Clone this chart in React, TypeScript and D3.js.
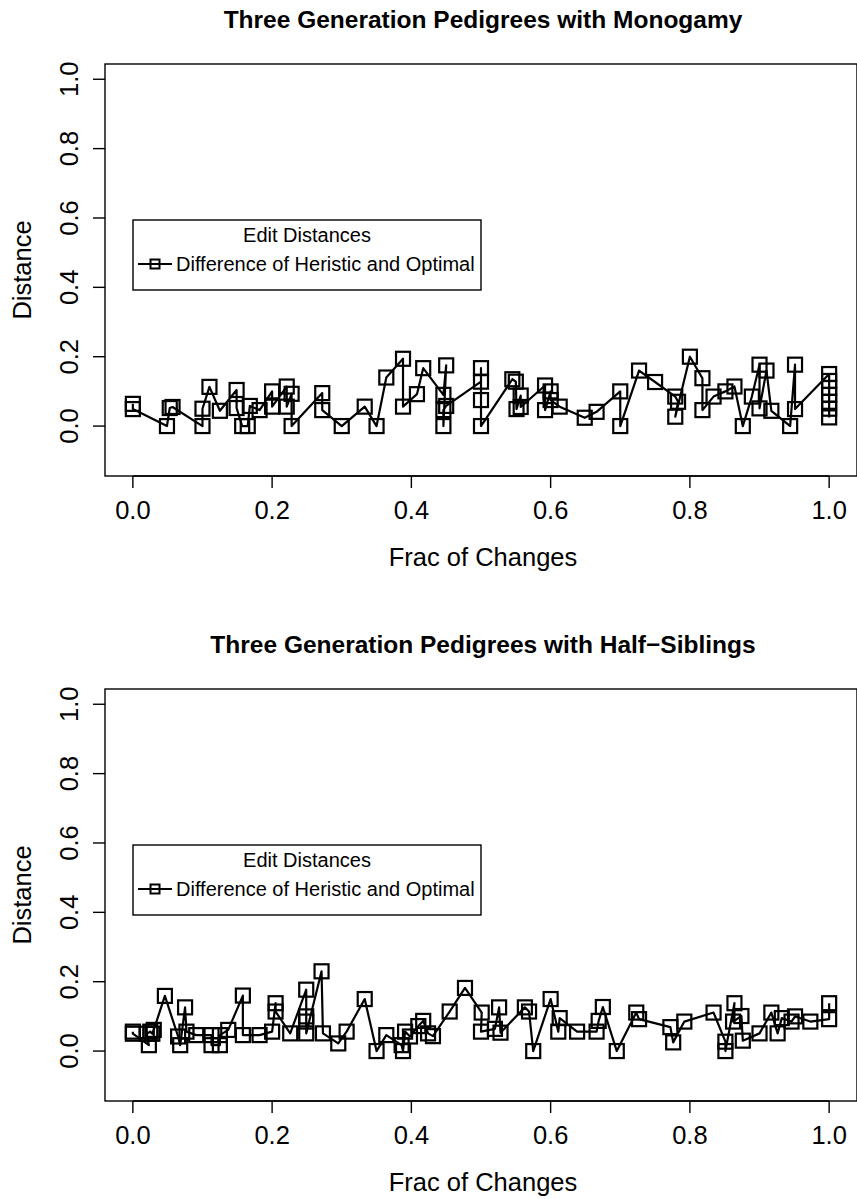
import React from 'react';
import * as d3 from 'd3';

// ── Data ─────────────────────────────────────────────────────────────────────
const monoX = [0, 0, 0.049, 0.053, 0.057, 0.1, 0.1, 0.11, 0.125, 0.149, 0.149, 0.157, 0.165, 0.168, 0.182, 0.2, 0.2, 0.221, 0.221, 0.228, 0.228, 0.272, 0.272, 0.3, 0.333, 0.35, 0.364, 0.388, 0.388, 0.408, 0.417, 0.446, 0.45, 0.446, 0.446, 0.45, 0.5, 0.5, 0.5, 0.5, 0.545, 0.55, 0.551, 0.557, 0.557, 0.592, 0.592, 0.6, 0.6, 0.613, 0.649, 0.666, 0.7, 0.7, 0.727, 0.75, 0.779, 0.783, 0.779, 0.8, 0.818, 0.818, 0.834, 0.851, 0.864, 0.876, 0.889, 0.9, 0.9, 0.91, 0.917, 0.944, 0.951, 0.951, 1, 1, 1, 1, 1, 1, 1];
const monoY = [0.064, 0.049, 0, 0.052, 0.055, 0, 0.05, 0.113, 0.044, 0.104, 0.052, 0, 0, 0.058, 0.046, 0.1, 0.056, 0.114, 0.056, 0.093, 0, 0.095, 0.046, 0, 0.056, 0, 0.14, 0.194, 0.056, 0.092, 0.167, 0.09, 0.175, 0, 0.046, 0.058, 0.128, 0.167, 0.075, 0, 0.135, 0.128, 0.049, 0.088, 0.055, 0.117, 0.046, 0.1, 0.075, 0.056, 0.024, 0.041, 0.1, 0, 0.16, 0.127, 0.085, 0.07, 0.027, 0.2, 0.138, 0.046, 0.085, 0.1, 0.114, 0, 0.085, 0.177, 0.051, 0.16, 0.044, 0, 0.177, 0.049, 0.15, 0.13, 0.11, 0.09, 0.07, 0.05, 0.025];

const halfX = [0, 0, 0.023, 0.02, 0.025, 0.028, 0.03, 0.046, 0.065, 0.068, 0.075, 0.077, 0.091, 0.113, 0.113, 0.125, 0.125, 0.137, 0.158, 0.158, 0.182, 0.2, 0.205, 0.205, 0.226, 0.249, 0.249, 0.249, 0.249, 0.271, 0.273, 0.295, 0.307, 0.333, 0.35, 0.364, 0.386, 0.388, 0.391, 0.398, 0.41, 0.417, 0.424, 0.431, 0.455, 0.477, 0.501, 0.5, 0.52, 0.526, 0.528, 0.563, 0.569, 0.575, 0.6, 0.611, 0.613, 0.638, 0.666, 0.669, 0.675, 0.695, 0.723, 0.727, 0.772, 0.776, 0.792, 0.834, 0.851, 0.851, 0.864, 0.862, 0.874, 0.876, 0.9, 0.917, 0.926, 0.932, 0.946, 0.951, 0.973, 1, 1];
const halfY = [0.056, 0.05, 0.017, 0.05, 0.056, 0.05, 0.061, 0.159, 0.042, 0.017, 0.126, 0.056, 0.046, 0.046, 0.017, 0.017, 0.046, 0.061, 0.16, 0.046, 0.046, 0.056, 0.138, 0.114, 0.051, 0.177, 0.1, 0.085, 0.051, 0.23, 0.051, 0.022, 0.056, 0.15, 0, 0.046, 0.017, 0, 0.056, 0.042, 0.072, 0.087, 0.051, 0.043, 0.114, 0.182, 0.111, 0.056, 0.064, 0.126, 0.053, 0.126, 0.114, 0, 0.15, 0.056, 0.095, 0.056, 0.056, 0.087, 0.127, 0, 0.111, 0.092, 0.069, 0.025, 0.085, 0.111, 0.027, 0, 0.138, 0.085, 0.101, 0.03, 0.051, 0.111, 0.051, 0.095, 0.085, 0.1, 0.085, 0.092, 0.138];

const xTicks = [0, 0.2, 0.4, 0.6, 0.8, 1.0];
const yTicks = [0, 0.2, 0.4, 0.6, 0.8, 1.0];
const titles = ['Three Generation Pedigrees with Monogamy', 'Three Generation Pedigrees with Half\u2212Siblings'];
const legendTitle = 'Edit Distances';
const legendLabel = 'Difference of Heristic and Optimal';

const FONT = '"Liberation Sans", Arial, Helvetica, sans-serif';
const W = 857;
const H = 1199;

// R style axis extension of 4%
const ext = ([a, b]: number[]) => [a - (b - a) * 0.04, b + (b - a) * 0.04];

function Panel({ xs, ys, title, top }: { xs: number[]; ys: number[]; title: string; top: number }) {
  const left = 105;
  const right = 857;
  const bottom = top + 412;

  const x = d3.scaleLinear().domain(ext([0, 1])).range([left, right]);
  const y = d3.scaleLinear().domain(ext([-0.1, 1])).range([bottom, top]);

  const pts = xs.map((v, i) => [v, ys[i]] as [number, number]);
  const line = d3.line<[number, number]>().x(d => x(d[0])).y(d => y(d[1]));
  const sq = 14;

  const fmt = d3.format('.1f');
  const lx = 133;
  const ly = top + 156;

  return (
    <g>
      <text x={(left + right) / 2 + 2} y={top - 36} textAnchor="middle" fontWeight="bold" fontSize={24.5} fontFamily={FONT}>
        {title}
      </text>
      <rect x={left} y={top} width={right - left} height={bottom - top} fill="none" stroke="#000" strokeWidth={1.4} />

      {/* x axis */}
      <line x1={x(0)} x2={x(1)} y1={bottom} y2={bottom} stroke="#000" strokeWidth={1.4} />
      {xTicks.map(t => (
        <g key={'x' + t}>
          <line x1={x(t)} x2={x(t)} y1={bottom} y2={bottom + 12} stroke="#000" strokeWidth={1.4} />
          <text x={x(t)} y={bottom + 43} textAnchor="middle" fontSize={25.5} fontFamily={FONT}>{fmt(t)}</text>
        </g>
      ))}
      <text x={(left + right) / 2 + 2} y={bottom + 90} textAnchor="middle" fontSize={25.5} fontFamily={FONT}>Frac of Changes</text>

      {/* y axis */}
      {yTicks.map(t => (
        <g key={'y' + t}>
          <line x1={left - 12} x2={left} y1={y(t)} y2={y(t)} stroke="#000" strokeWidth={1.4} />
          <text transform={`translate(${left - 27},${y(t)}) rotate(-90)`} textAnchor="middle" fontSize={25.5} fontFamily={FONT}>{fmt(t)}</text>
        </g>
      ))}
      <text transform={`translate(31,${(top + bottom) / 2}) rotate(-90)`} textAnchor="middle" fontSize={25.5} fontFamily={FONT}>Distance</text>

      {/* series */}
      <path d={line(pts) ?? ''} fill="none" stroke="#000" strokeWidth={2.2} strokeLinejoin="round" />
      {pts.map((p, i) => (
        <rect key={i} x={x(p[0]) - sq / 2} y={y(p[1]) - sq / 2} width={sq} height={sq} fill="none" stroke="#000" strokeWidth={2.2} />
      ))}

      {/* legend */}
      <rect x={lx} y={ly} width={348} height={70} fill="#fff" stroke="#000" strokeWidth={1.4} />
      <text x={lx + 174} y={ly + 22} textAnchor="middle" fontSize={20} fontFamily={FONT}>{legendTitle}</text>
      <line x1={lx + 5} x2={lx + 39} y1={ly + 44} y2={ly + 44} stroke="#000" strokeWidth={2.2} />
      <rect x={lx + 22 - 4.5} y={ly + 44 - 4.5} width={9} height={9} fill="none" stroke="#000" strokeWidth={2} />
      <text x={lx + 43} y={ly + 51} fontSize={20} fontFamily={FONT}>{legendLabel}</text>
    </g>
  );
}

export default function App() {
  return (
    <svg width={W} height={H} style={{ position: 'absolute', left: 0, top: 0, background: '#fff' }}>
      <rect width={W} height={H} fill="#fff" />
      <Panel xs={monoX} ys={monoY} title={titles[0]} top={64} />
      <Panel xs={halfX} ys={halfY} title={titles[1]} top={689} />
    </svg>
  );
}
